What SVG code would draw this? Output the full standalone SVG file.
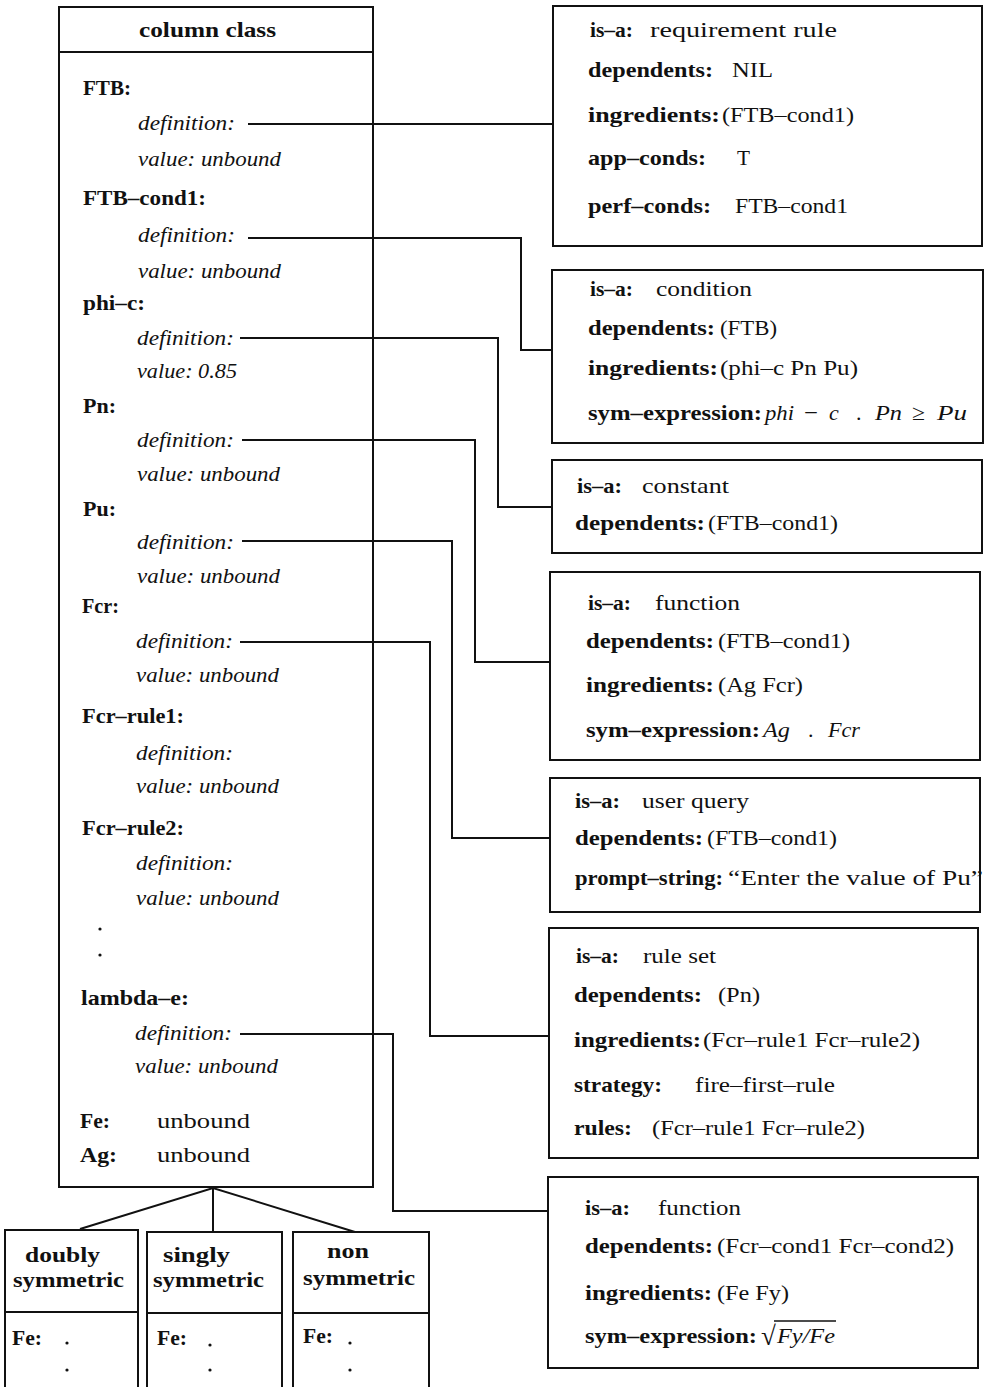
<svg xmlns="http://www.w3.org/2000/svg" width="986" height="1387" viewBox="0 0 986 1387">
<style>
text{font-family:"Liberation Serif","Times New Roman",serif;font-size:22px;fill:#111}
.b{font-weight:bold}
.i{font-style:italic}
.box{fill:none;stroke:#111;stroke-width:2}
.conn{fill:none;stroke:#111;stroke-width:2}
.dot{fill:#111}
</style>
<rect width="986" height="1387" fill="#fff"/>
<g id="column-class">
<rect class="box" x="59" y="7" width="314" height="1180"/>
<line class="box" x1="59" y1="52" x2="373" y2="52"/>
<text class="b" x="139" y="37" textLength="137" lengthAdjust="spacingAndGlyphs">column class</text>
<text class="b" x="83" y="95" textLength="48" lengthAdjust="spacingAndGlyphs">FTB:</text>
<text class="i" x="138" y="130" textLength="97" lengthAdjust="spacingAndGlyphs">definition:</text>
<text class="i" x="138" y="166" textLength="143" lengthAdjust="spacingAndGlyphs">value: unbound</text>
<text class="b" x="83" y="205" textLength="123" lengthAdjust="spacingAndGlyphs">FTB–cond1:</text>
<text class="i" x="138" y="242" textLength="97" lengthAdjust="spacingAndGlyphs">definition:</text>
<text class="i" x="138" y="278" textLength="143" lengthAdjust="spacingAndGlyphs">value: unbound</text>
<text class="b" x="83" y="310" textLength="62" lengthAdjust="spacingAndGlyphs">phi–c:</text>
<text class="i" x="137" y="345" textLength="97" lengthAdjust="spacingAndGlyphs">definition:</text>
<text class="i" x="137" y="378" textLength="100" lengthAdjust="spacingAndGlyphs">value: 0.85</text>
<text class="b" x="83" y="413" textLength="33" lengthAdjust="spacingAndGlyphs">Pn:</text>
<text class="i" x="137" y="447" textLength="97" lengthAdjust="spacingAndGlyphs">definition:</text>
<text class="i" x="137" y="481" textLength="143" lengthAdjust="spacingAndGlyphs">value: unbound</text>
<text class="b" x="83" y="516" textLength="33" lengthAdjust="spacingAndGlyphs">Pu:</text>
<text class="i" x="137" y="549" textLength="97" lengthAdjust="spacingAndGlyphs">definition:</text>
<text class="i" x="137" y="583" textLength="143" lengthAdjust="spacingAndGlyphs">value: unbound</text>
<text class="b" x="82" y="613" textLength="37" lengthAdjust="spacingAndGlyphs">Fcr:</text>
<text class="i" x="136" y="648" textLength="97" lengthAdjust="spacingAndGlyphs">definition:</text>
<text class="i" x="136" y="682" textLength="143" lengthAdjust="spacingAndGlyphs">value: unbound</text>
<text class="b" x="82" y="723" textLength="102" lengthAdjust="spacingAndGlyphs">Fcr–rule1:</text>
<text class="i" x="136" y="760" textLength="97" lengthAdjust="spacingAndGlyphs">definition:</text>
<text class="i" x="136" y="793" textLength="143" lengthAdjust="spacingAndGlyphs">value: unbound</text>
<text class="b" x="82" y="835" textLength="102" lengthAdjust="spacingAndGlyphs">Fcr–rule2:</text>
<text class="i" x="136" y="870" textLength="97" lengthAdjust="spacingAndGlyphs">definition:</text>
<text class="i" x="136" y="905" textLength="143" lengthAdjust="spacingAndGlyphs">value: unbound</text>
<circle class="dot" cx="100" cy="929" r="1.6"/>
<circle class="dot" cx="100" cy="955" r="1.6"/>
<text class="b" x="81" y="1005" textLength="108" lengthAdjust="spacingAndGlyphs">lambda–e:</text>
<text class="i" x="135" y="1040" textLength="97" lengthAdjust="spacingAndGlyphs">definition:</text>
<text class="i" x="135" y="1073" textLength="143" lengthAdjust="spacingAndGlyphs">value: unbound</text>
<text class="b" x="80" y="1128" textLength="30" lengthAdjust="spacingAndGlyphs">Fe:</text>
<text x="157" y="1128" textLength="93" lengthAdjust="spacingAndGlyphs">unbound</text>
<text class="b" x="80" y="1162" textLength="37" lengthAdjust="spacingAndGlyphs">Ag:</text>
<text x="157" y="1162" textLength="93" lengthAdjust="spacingAndGlyphs">unbound</text>
</g>
<g id="doubly-symmetric">
<path class="box" d="M5,1392 V1230 H138 V1392 M5,1312 H138"/>
<text class="b" x="25" y="1262" textLength="75" lengthAdjust="spacingAndGlyphs">doubly</text>
<text class="b" x="13" y="1287" textLength="111" lengthAdjust="spacingAndGlyphs">symmetric</text>
<text class="b" x="12" y="1345" textLength="30" lengthAdjust="spacingAndGlyphs">Fe:</text>
<circle class="dot" cx="67" cy="1343" r="1.6"/>
<circle class="dot" cx="67" cy="1370" r="1.6"/>
</g>
<g id="singly-symmetric">
<path class="box" d="M147,1392 V1232 H282 V1392 M147,1313 H282"/>
<text class="b" x="163" y="1262" textLength="67" lengthAdjust="spacingAndGlyphs">singly</text>
<text class="b" x="153" y="1287" textLength="111" lengthAdjust="spacingAndGlyphs">symmetric</text>
<text class="b" x="157" y="1345" textLength="30" lengthAdjust="spacingAndGlyphs">Fe:</text>
<circle class="dot" cx="210" cy="1345" r="1.6"/>
<circle class="dot" cx="210" cy="1370" r="1.6"/>
</g>
<g id="non-symmetric">
<path class="box" d="M293,1392 V1232 H429 V1392 M293,1313 H429"/>
<text class="b" x="327" y="1258" textLength="42" lengthAdjust="spacingAndGlyphs">non</text>
<text class="b" x="303" y="1285" textLength="112" lengthAdjust="spacingAndGlyphs">symmetric</text>
<text class="b" x="303" y="1343" textLength="30" lengthAdjust="spacingAndGlyphs">Fe:</text>
<circle class="dot" cx="350" cy="1343" r="1.6"/>
<circle class="dot" cx="350" cy="1370" r="1.6"/>
</g>
<g id="ftb-def">
<rect class="box" x="553" y="6" width="429" height="240"/>
<text class="b" x="590" y="37" textLength="43" lengthAdjust="spacingAndGlyphs">is–a:</text>
<text x="650" y="37" textLength="187" lengthAdjust="spacingAndGlyphs">requirement rule</text>
<text class="b" x="588" y="77" textLength="125" lengthAdjust="spacingAndGlyphs">dependents:</text>
<text x="732" y="77" textLength="41" lengthAdjust="spacingAndGlyphs">NIL</text>
<text class="b" x="588" y="122" textLength="132" lengthAdjust="spacingAndGlyphs">ingredients:</text>
<text x="722" y="122" textLength="132" lengthAdjust="spacingAndGlyphs">(FTB–cond1)</text>
<text class="b" x="588" y="165" textLength="118" lengthAdjust="spacingAndGlyphs">app–conds:</text>
<text x="737" y="165" textLength="13" lengthAdjust="spacingAndGlyphs">T</text>
<text class="b" x="588" y="213" textLength="123" lengthAdjust="spacingAndGlyphs">perf–conds:</text>
<text x="735" y="213" textLength="113" lengthAdjust="spacingAndGlyphs">FTB–cond1</text>
</g>
<g id="ftb-cond1-def">
<rect class="box" x="552" y="270" width="431" height="173"/>
<text class="b" x="590" y="296" textLength="43" lengthAdjust="spacingAndGlyphs">is–a:</text>
<text x="656" y="296" textLength="96" lengthAdjust="spacingAndGlyphs">condition</text>
<text class="b" x="588" y="335" textLength="127" lengthAdjust="spacingAndGlyphs">dependents:</text>
<text x="720" y="335" textLength="57" lengthAdjust="spacingAndGlyphs">(FTB)</text>
<text class="b" x="588" y="375" textLength="130" lengthAdjust="spacingAndGlyphs">ingredients:</text>
<text x="720" y="375" textLength="138" lengthAdjust="spacingAndGlyphs">(phi–c Pn Pu)</text>
<text class="b" x="588" y="420" textLength="174" lengthAdjust="spacingAndGlyphs">sym–expression:</text>
<text class="i" x="765" y="420" textLength="29" lengthAdjust="spacingAndGlyphs">phi</text>
<text x="804" y="420" textLength="14" lengthAdjust="spacingAndGlyphs">−</text>
<text class="i" x="829" y="420">c</text>
<text x="856" y="420">.</text>
<text class="i" x="875" y="420" textLength="27" lengthAdjust="spacingAndGlyphs">Pn</text>
<text x="912" y="420" textLength="13" lengthAdjust="spacingAndGlyphs">≥</text>
<text class="i" x="937" y="420" textLength="30" lengthAdjust="spacingAndGlyphs">Pu</text>
</g>
<g id="phi-c-def">
<rect class="box" x="552" y="460" width="430" height="93"/>
<text class="b" x="577" y="493" textLength="45" lengthAdjust="spacingAndGlyphs">is–a:</text>
<text x="642" y="493" textLength="87" lengthAdjust="spacingAndGlyphs">constant</text>
<text class="b" x="575" y="530" textLength="130" lengthAdjust="spacingAndGlyphs">dependents:</text>
<text x="708" y="530" textLength="130" lengthAdjust="spacingAndGlyphs">(FTB–cond1)</text>
</g>
<g id="pn-def">
<rect class="box" x="550" y="572" width="430" height="188"/>
<text class="b" x="588" y="610" textLength="43" lengthAdjust="spacingAndGlyphs">is–a:</text>
<text x="655" y="610" textLength="85" lengthAdjust="spacingAndGlyphs">function</text>
<text class="b" x="586" y="648" textLength="128" lengthAdjust="spacingAndGlyphs">dependents:</text>
<text x="718" y="648" textLength="132" lengthAdjust="spacingAndGlyphs">(FTB–cond1)</text>
<text class="b" x="586" y="692" textLength="128" lengthAdjust="spacingAndGlyphs">ingredients:</text>
<text x="718" y="692" textLength="85" lengthAdjust="spacingAndGlyphs">(Ag Fcr)</text>
<text class="b" x="586" y="737" textLength="174" lengthAdjust="spacingAndGlyphs">sym–expression:</text>
<text class="i" x="763" y="737" textLength="27" lengthAdjust="spacingAndGlyphs">Ag</text>
<text x="808" y="737">.</text>
<text class="i" x="828" y="737" textLength="32" lengthAdjust="spacingAndGlyphs">Fcr</text>
</g>
<g id="pu-def">
<rect class="box" x="550" y="778" width="430" height="134"/>
<text class="b" x="575" y="808" textLength="45" lengthAdjust="spacingAndGlyphs">is–a:</text>
<text x="642" y="808" textLength="107" lengthAdjust="spacingAndGlyphs">user query</text>
<text class="b" x="575" y="845" textLength="128" lengthAdjust="spacingAndGlyphs">dependents:</text>
<text x="707" y="845" textLength="130" lengthAdjust="spacingAndGlyphs">(FTB–cond1)</text>
<text class="b" x="575" y="885" textLength="148" lengthAdjust="spacingAndGlyphs">prompt–string:</text>
<text x="728" y="885" textLength="255" lengthAdjust="spacingAndGlyphs">“Enter the value of Pu”</text>
</g>
<g id="fcr-def">
<rect class="box" x="549" y="928" width="429" height="230"/>
<text class="b" x="576" y="963" textLength="43" lengthAdjust="spacingAndGlyphs">is–a:</text>
<text x="643" y="963" textLength="73" lengthAdjust="spacingAndGlyphs">rule set</text>
<text class="b" x="574" y="1002" textLength="128" lengthAdjust="spacingAndGlyphs">dependents:</text>
<text x="718" y="1002" textLength="42" lengthAdjust="spacingAndGlyphs">(Pn)</text>
<text class="b" x="574" y="1047" textLength="127" lengthAdjust="spacingAndGlyphs">ingredients:</text>
<text x="703" y="1047" textLength="217" lengthAdjust="spacingAndGlyphs">(Fcr–rule1 Fcr–rule2)</text>
<text class="b" x="574" y="1092" textLength="88" lengthAdjust="spacingAndGlyphs">strategy:</text>
<text x="695" y="1092" textLength="140" lengthAdjust="spacingAndGlyphs">fire–first–rule</text>
<text class="b" x="574" y="1135" textLength="58" lengthAdjust="spacingAndGlyphs">rules:</text>
<text x="652" y="1135" textLength="213" lengthAdjust="spacingAndGlyphs">(Fcr–rule1 Fcr–rule2)</text>
</g>
<g id="lambda-e-def">
<rect class="box" x="548" y="1177" width="430" height="191"/>
<text class="b" x="585" y="1215" textLength="45" lengthAdjust="spacingAndGlyphs">is–a:</text>
<text x="658" y="1215" textLength="83" lengthAdjust="spacingAndGlyphs">function</text>
<text class="b" x="585" y="1253" textLength="128" lengthAdjust="spacingAndGlyphs">dependents:</text>
<text x="717" y="1253" textLength="237" lengthAdjust="spacingAndGlyphs">(Fcr–cond1 Fcr–cond2)</text>
<text class="b" x="585" y="1300" textLength="127" lengthAdjust="spacingAndGlyphs">ingredients:</text>
<text x="717" y="1300" textLength="72" lengthAdjust="spacingAndGlyphs">(Fe Fy)</text>
<text class="b" x="585" y="1343" textLength="172" lengthAdjust="spacingAndGlyphs">sym–expression:</text>
<text x="761" y="1345" style="font-size:27px">√</text>
<text class="i" x="777" y="1343" textLength="58" lengthAdjust="spacingAndGlyphs">Fy/Fe</text>
<line x1="774" y1="1321" x2="836" y2="1321" stroke="#111" stroke-width="1.5"/>
</g>
<g id="connectors">
<polyline class="conn" points="248,124 553,124"/>
<polyline class="conn" points="248,238 521,238 521,350 552,350"/>
<polyline class="conn" points="240,338 498,338 498,507 552,507"/>
<polyline class="conn" points="242,440 475,440 475,662 550,662"/>
<polyline class="conn" points="242,541 452,541 452,838 550,838"/>
<polyline class="conn" points="240,642 430,642 430,1036 549,1036"/>
<polyline class="conn" points="240,1034 393,1034 393,1211 548,1211"/>
<polyline class="conn" points="80,1229 213,1188 355,1232"/>
<polyline class="conn" points="213,1188 213,1232"/>
</g>
</svg>
